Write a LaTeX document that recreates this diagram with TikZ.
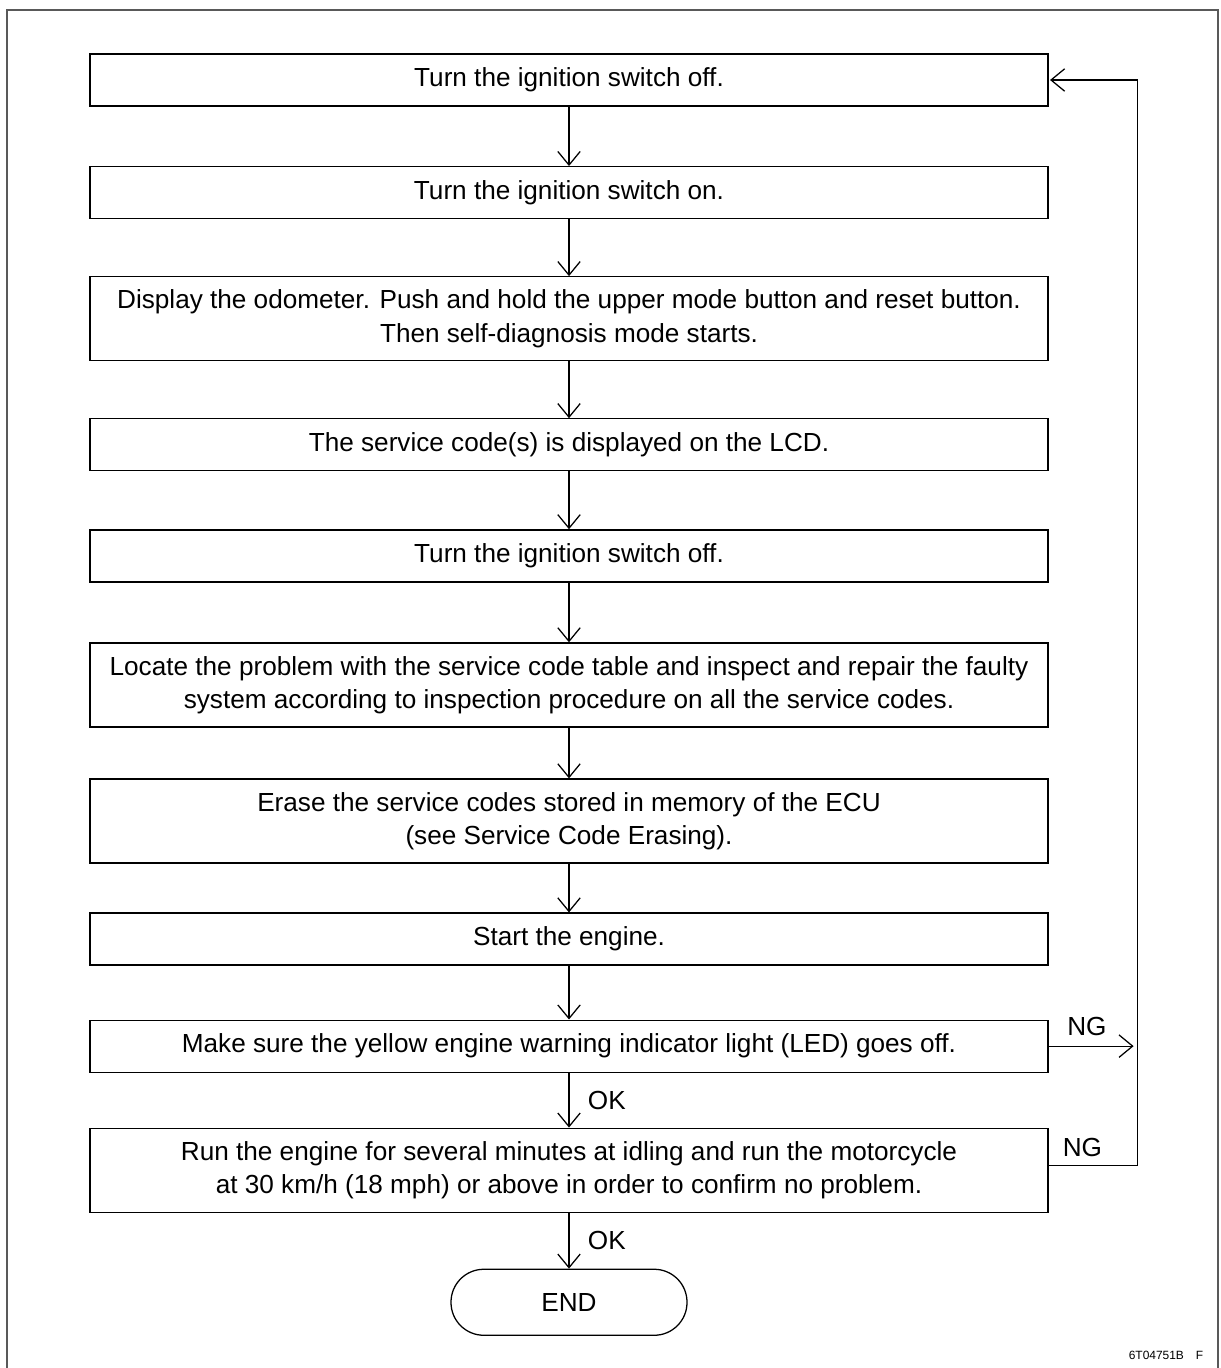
\documentclass[tikz,border=0pt]{standalone}
\usepackage{fontspec}
\setmainfont{Liberation Sans}
\usepackage{tikz}
\usetikzlibrary{arrows.meta, positioning, calc}

\begin{document}
\begin{tikzpicture}[
  node distance=1.42cm,
  every node/.style={font=\fontsize{18.6}{23.5}\selectfont},
  stepbox/.style={draw, line width=0.9pt, minimum width=23.95cm, minimum height=1.3cm, align=center, inner sep=2pt},
  twoline/.style={stepbox, minimum height=2.1cm},
  endbox/.style={draw, line width=0.9pt, rounded corners=0.82cm, minimum width=5.9cm, minimum height=1.65cm},
  arrow/.style={-{Straight Barb[length=3.4mm, width=5.6mm, line width=0.9pt]}, line width=0.9pt},
  label/.style={inner sep=1pt}
]
  \useasboundingbox (0,0) rectangle (30.5,-34.2);
  \draw[line width=1.2pt, gray!70!black] (0.175,-35) -- (0.175,-0.25) -- (30.45,-0.25) -- (30.45,-35);

  \node[stepbox] (s1) at (14.225,-2.0) {Turn the ignition switch off.};
  \node[stepbox, below=1.485cm of s1] (s2) {Turn the ignition switch on.};
  \node[twoline, below=of s2] (s3) {Display the odometer. Push and hold the upper mode button and reset button.\\Then self-diagnosis mode starts.};
  \node[stepbox, below=of s3] (s4) {The service code(s) is displayed on the LCD.};
  \node[stepbox, below=1.445cm of s4] (s5) {Turn the ignition switch off.};
  \node[twoline, below=1.495cm of s5] (s6) {Locate the problem with the service code table and inspect and repair the faulty\\system according to inspection procedure on all the service codes.};
  \node[twoline, below=1.27cm of s6] (s7) {Erase the service codes stored in memory of the ECU\\(see Service Code Erasing).};
  \node[stepbox, below=1.22cm of s7] (s8) {Start the engine.};
  \node[stepbox, below=1.345cm of s8] (s9) {Make sure the yellow engine warning indicator light (LED) goes off.};
  \node[twoline, below=1.37cm of s9] (s10) {Run the engine for several minutes at idling and run the motorcycle\\at 30 km/h (18 mph) or above in order to confirm no problem.};
  \node[endbox, below=1.395cm of s10] (fine) {END};

  \coordinate (loopb) at ([xshift=2.225cm, yshift=0.12cm]s10.east);
  \coordinate (loopt) at (loopb |- s1.east);
  \coordinate (nghit) at ([xshift=2.125cm]s9.east);

  \foreach \a/\b in {s1/s2, s2/s3, s3/s4, s4/s5, s5/s6, s6/s7, s7/s8, s8/s9}
    \draw[arrow] (\a) -- (\b);
  \draw[arrow] (s9) -- (s10) node[label, midway, right=12pt] {OK};
  \draw[arrow] (s10) -- (fine) node[label, midway, right=12pt] {OK};

  \draw[arrow] (s9.east) -- (nghit) node[label, midway, above=6pt, xshift=-3pt] {NG};
  \draw[arrow] ([yshift=0.12cm]s10.east) -- (loopb) -- (loopt) -- ([xshift=1pt]s1.east);
  \node[label, above=5pt] (ng2) at ($([yshift=0.12cm]s10.east)!0.38!(loopb)$) {NG};

  \node[font=\fontsize{8.5}{9}\selectfont] (code) at (29.15,-33.88) {6T04751B\quad F};
\end{tikzpicture}
\end{document}
